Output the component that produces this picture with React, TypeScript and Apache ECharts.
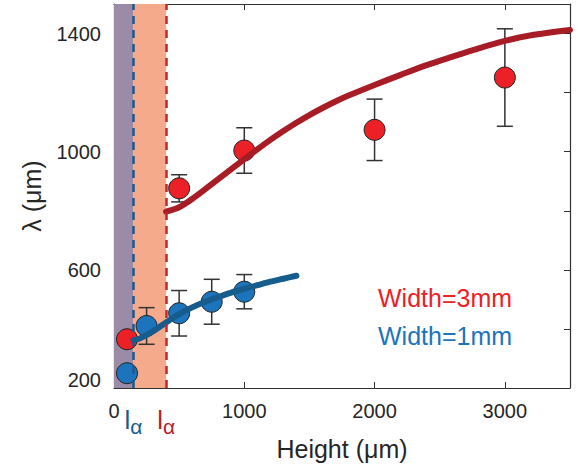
import React, { useEffect, useRef } from "react";
import * as echarts from "echarts";

const FONT = '"Liberation Sans", Arial, Helvetica, sans-serif';

// Measured data (Width = 3 mm)
const redX = [100, 500, 1000, 2000, 3000];
const redY = [365, 876, 1004, 1074, 1251];
const redErr = [0, 46, 77, 104, 165];

// Measured data (Width = 1 mm)
const blueX = [100, 250, 500, 750, 1000];
const blueY = [250, 410, 453, 492, 526];
const blueErr = [0, 62, 77, 76, 58];

// Model curves
const redFitX = [400, 500, 600, 700, 800, 900, 1000, 1100, 1200, 1300, 1400, 1500, 1600, 1700, 1800, 2000, 2200, 2400, 2600, 2800, 3000, 3200, 3500];
const redFitY = [797, 812, 840, 873, 907, 941, 975, 1008, 1040, 1070, 1098, 1124, 1148, 1170, 1190, 1226, 1260, 1293, 1322, 1350, 1375, 1394, 1412];
const blueFitX = [150, 200, 300, 400, 500, 600, 700, 800, 900, 1000, 1100, 1200, 1300, 1400];
const blueFitY = [362, 368, 392, 422, 450, 473, 492, 508, 523, 536, 548, 560, 570, 580];

// Characteristic lengths l_alpha
const lAlphaBlue = 150;
const lAlphaRed = 400;

const xMin = 0, xMax = 3500, xStep = 1000;
const yMin = 200, yMax = 1500, yStep = 200;
const yLabelValues = [200, 600, 1000, 1400];

const RED = "#ec2027";
const BLUE = "#1c75bc";
const RED_FIT = "#a81c26";
const BLUE_FIT = "#165c8c";
const AXIS = "#333333";
const TEXT = "#262626";

export default function App() {
  const ref = useRef<HTMLDivElement>(null);
  useEffect(() => {
    if (!ref.current) return;
    const chart = echarts.init(ref.current, undefined, { renderer: "svg" });

    const errData = (xs: number[], ys: number[], es: number[]) =>
      xs
        .map((x, i) => [x, ys[i] - es[i], ys[i] + es[i]])
        .filter((_, i) => es[i] > 0);

    const renderErr = (params: any, api: any) => {
      const x = api.value(0);
      const lo = api.coord([x, api.value(1)]);
      const hi = api.coord([x, api.value(2)]);
      const hw = 8;
      const style = { stroke: AXIS, lineWidth: 1.5 };
      return {
        type: "group",
        children: [
          { type: "line", shape: { x1: lo[0], y1: lo[1], x2: hi[0], y2: hi[1] }, style },
          { type: "line", shape: { x1: lo[0] - hw, y1: lo[1], x2: lo[0] + hw, y2: lo[1] }, style },
          { type: "line", shape: { x1: hi[0] - hw, y1: hi[1], x2: hi[0] + hw, y2: hi[1] }, style },
        ],
      };
    };

    const lLabel = (color: string) => ({
      show: true,
      position: "start",
      distance: 14,
      formatter: "{l|l}{a|α}",
      rich: {
        l: { fontSize: 26, color, fontFamily: FONT },
        a: { fontSize: 21, color, fontFamily: FONT, padding: [14, 0, 0, 0] },
      },
    });

    chart.setOption({
      animation: false,
      backgroundColor: "#ffffff",
      grid: { left: 114, right: 10, top: 4, bottom: 80 },
      legend: {
        orient: "vertical",
        left: 368,
        top: 280,
        icon: "none",
        itemWidth: 0,
        itemHeight: 0,
        itemGap: 13,
        selectedMode: false,
        textStyle: { fontSize: 25, fontFamily: FONT },
        data: [
          { name: "Width=3mm", textStyle: { color: RED } },
          { name: "Width=1mm", textStyle: { color: BLUE } },
        ],
      },
      xAxis: [
        {
          type: "value",
          min: xMin,
          max: xMax,
          interval: xStep,
          name: "Height (μm)",
          nameLocation: "middle",
          nameGap: 48,
          nameTextStyle: { fontSize: 25, fontFamily: FONT, color: TEXT },
          axisLine: { show: true, onZero: false, lineStyle: { color: AXIS, width: 1.2 } },
          axisTick: { show: true, inside: true, length: 6, lineStyle: { color: AXIS } },
          axisLabel: {
            fontSize: 20,
            fontFamily: FONT,
            color: TEXT,
            margin: 13,
            showMaxLabel: false,
            formatter: (v: number) => (v <= 3000 ? String(v) : ""),
          },
          splitLine: { show: false },
        },
        {
          type: "value",
          position: "top",
          min: xMin,
          max: xMax,
          interval: xStep,
          axisLine: { show: true, onZero: false, lineStyle: { color: AXIS, width: 1.2 } },
          axisTick: { show: true, inside: true, length: 6, lineStyle: { color: AXIS } },
          axisLabel: { show: false },
          splitLine: { show: false },
        },
      ],
      yAxis: [
        {
          type: "value",
          min: yMin,
          max: yMax,
          interval: yStep,
          name: "λ (μm)",
          nameLocation: "middle",
          nameGap: 70,
          nameTextStyle: { fontSize: 25, fontFamily: FONT, color: TEXT },
          axisLine: { show: true, onZero: false, lineStyle: { color: AXIS, width: 1.2 } },
          axisTick: { show: true, inside: true, length: 6, lineStyle: { color: AXIS } },
          axisLabel: {
            fontSize: 20,
            fontFamily: FONT,
            color: TEXT,
            margin: 13,
            showMaxLabel: false,
            formatter: (v: number) =>
              v === yLabelValues[0]
                ? "{s|" + v + "}"
                : yLabelValues.indexOf(v) >= 0
                ? String(v)
                : "",
            rich: {
              s: { fontSize: 20, fontFamily: FONT, color: TEXT, padding: [0, 0, 16, 0] },
            },
          },
          splitLine: { show: false },
        },
        {
          type: "value",
          position: "right",
          min: yMin,
          max: yMax,
          interval: yStep,
          axisLine: { show: true, onZero: false, lineStyle: { color: AXIS, width: 1.2 } },
          axisTick: { show: true, inside: true, length: 6, lineStyle: { color: AXIS } },
          axisLabel: { show: false },
          splitLine: { show: false },
        },
      ],
      series: [
        {
          type: "line",
          name: "regions",
          data: [],
          z: 1,
          silent: true,
          markArea: {
            silent: true,
            data: [
              [{ xAxis: xMin, itemStyle: { color: "#9b8ba7", opacity: 1 } }, { xAxis: lAlphaBlue }],
              [{ xAxis: lAlphaBlue, itemStyle: { color: "#f6aa8c", opacity: 1 } }, { xAxis: lAlphaRed }],
            ],
          },
        },
        {
          type: "custom",
          name: "errRed",
          z: 2,
          renderItem: renderErr,
          encode: { x: 0, y: [1, 2] },
          data: errData(redX, redY, redErr),
        },
        {
          type: "custom",
          name: "errBlue",
          z: 2,
          renderItem: renderErr,
          encode: { x: 0, y: [1, 2] },
          data: errData(blueX, blueY, blueErr),
        },
        {
          type: "scatter",
          name: "Width=3mm",
          z: 3,
          symbol: "circle",
          symbolSize: 21,
          itemStyle: { color: RED, borderColor: "#222", borderWidth: 1, opacity: 1 },
          data: redX.map((x, i) => [x, redY[i]]),
        },
        {
          type: "scatter",
          name: "Width=1mm",
          z: 3,
          symbol: "circle",
          symbolSize: 21,
          itemStyle: { color: BLUE, borderColor: "#222", borderWidth: 1, opacity: 1 },
          data: blueX.map((x, i) => [x, blueY[i]]),
        },
        {
          type: "line",
          name: "fitRed",
          z: 4,
          showSymbol: false,
          symbol: "none",
          smooth: 0.3,
          lineStyle: { color: RED_FIT, width: 6, cap: "round" },
          data: redFitX.map((x, i) => [x, redFitY[i]]),
        },
        {
          type: "line",
          name: "fitBlue",
          z: 4,
          showSymbol: false,
          symbol: "none",
          smooth: 0.3,
          lineStyle: { color: BLUE_FIT, width: 6, cap: "round" },
          data: blueFitX.map((x, i) => [x, blueFitY[i]]),
        },
        {
          type: "line",
          name: "lalpha",
          data: [],
          z: 5,
          silent: true,
          markLine: {
            silent: true,
            symbol: "none",
            data: [
              {
                xAxis: lAlphaBlue,
                lineStyle: { color: "#1b5a8a", width: 2.5, type: [8, 6] },
                label: lLabel("#1b5a8a"),
              },
              {
                xAxis: lAlphaRed,
                lineStyle: { color: "#c0282f", width: 2.5, type: [8, 6] },
                label: lLabel("#b5202b"),
              },
            ],
          },
        },
      ],
    });
    return () => chart.dispose();
  }, []);
  return (
    <div
      ref={ref}
      style={{ position: "fixed", left: 0, top: 0, width: 580, height: 468, background: "#fff" }}
    />
  );
}
